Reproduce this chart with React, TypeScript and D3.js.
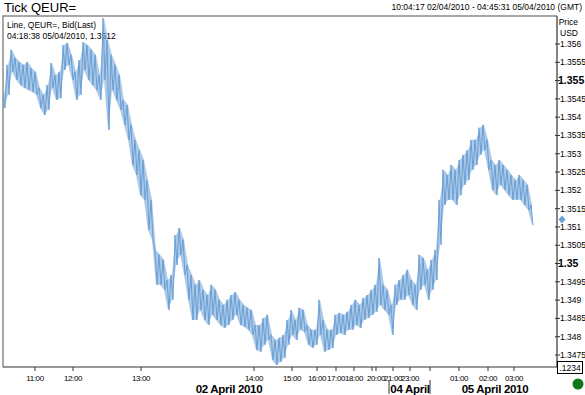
import React, { useEffect, useRef } from 'react';
import * as d3 from 'd3';

// band of bid ticks, one sample every few ticks (upper / lower bid of the sample)
const bandHigh = [
  1.35461, 1.35543, 1.35584, 1.35562, 1.35551, 1.35543, 1.35551, 1.35534, 1.35524, 1.35480,
  1.35461, 1.35488, 1.35548, 1.35515, 1.35524, 1.35597, 1.35603, 1.35570, 1.35524, 1.35556,
  1.35605, 1.35597, 1.35584, 1.35570, 1.35515, 1.35671, 1.35611, 1.35570, 1.35543, 1.35515,
  1.35447, 1.35433, 1.35379, 1.35338, 1.35310, 1.35283, 1.35228, 1.35174, 1.35037, 1.35024,
  1.35010, 1.34955, 1.34969, 1.35078, 1.35097, 1.35065, 1.34996, 1.34969, 1.34942, 1.34955,
  1.34928, 1.34914, 1.34942, 1.34928, 1.34901, 1.34887, 1.34901, 1.34914, 1.34922, 1.34901,
  1.34887, 1.34879, 1.34873, 1.34832, 1.34832, 1.34851, 1.34860, 1.34805, 1.34791, 1.34797,
  1.34805, 1.34846, 1.34873, 1.34846, 1.34879, 1.34873, 1.34832, 1.34819, 1.34819, 1.34901,
  1.34846, 1.34819, 1.34819, 1.34860, 1.34865, 1.34860, 1.34868, 1.34887, 1.34901, 1.34887,
  1.34906, 1.34914, 1.34928, 1.34942, 1.35015, 1.34942, 1.34928, 1.34887, 1.34942, 1.34955,
  1.34969, 1.34983, 1.34955, 1.34942, 1.35024, 1.35015, 1.34983, 1.35010, 1.35037, 1.35174,
  1.35256, 1.35242, 1.35269, 1.35256, 1.35283, 1.35297, 1.35310, 1.35338, 1.35338, 1.35371,
  1.35379, 1.35338, 1.35283, 1.35269, 1.35283, 1.35269, 1.35256, 1.35242, 1.35228, 1.35242,
  1.35228, 1.35215, 1.35160,
];
const bandLow = [
  1.35425, 1.35461, 1.35524, 1.35502, 1.35488, 1.35480, 1.35474, 1.35469, 1.35461, 1.35425,
  1.35406, 1.35420, 1.35480, 1.35447, 1.35452, 1.35529, 1.35543, 1.35502, 1.35447, 1.35461,
  1.35529, 1.35502, 1.35488, 1.35474, 1.35447, 1.35502, 1.35365, 1.35474, 1.35447, 1.35420,
  1.35379, 1.35338, 1.35269, 1.35242, 1.35187, 1.35174, 1.35092, 1.35065, 1.34942, 1.34942,
  1.34928, 1.34873, 1.34901, 1.34996, 1.35024, 1.34969, 1.34901, 1.34846, 1.34846, 1.34873,
  1.34846, 1.34832, 1.34860, 1.34846, 1.34832, 1.34824, 1.34832, 1.34846, 1.34860, 1.34832,
  1.34827, 1.34819, 1.34805, 1.34764, 1.34759, 1.34778, 1.34791, 1.34737, 1.34723, 1.34731,
  1.34742, 1.34778, 1.34805, 1.34791, 1.34819, 1.34813, 1.34778, 1.34769, 1.34778, 1.34805,
  1.34759, 1.34764, 1.34769, 1.34805, 1.34810, 1.34805, 1.34819, 1.34819, 1.34832, 1.34824,
  1.34846, 1.34851, 1.34860, 1.34868, 1.34887, 1.34873, 1.34860, 1.34805, 1.34887, 1.34901,
  1.34901, 1.34914, 1.34887, 1.34873, 1.34928, 1.34942, 1.34901, 1.34928, 1.34955, 1.35051,
  1.35160, 1.35174, 1.35174, 1.35160, 1.35187, 1.35215, 1.35228, 1.35256, 1.35269, 1.35297,
  1.35310, 1.35256, 1.35201, 1.35187, 1.35215, 1.35201, 1.35187, 1.35174, 1.35174, 1.35174,
  1.35160, 1.35146, 1.35105,
];
const lastPrice = 1.3512;

const priceTicks = [
  '1.356', '1.3555', '1.355', '1.3545', '1.354', '1.3535', '1.353', '1.3525', '1.352',
  '1.3515', '1.351', '1.3505', '1.35', '1.3495', '1.349', '1.3485', '1.348', '1.3475',
];
const boldTicks = ['1.355', '1.35'];

// position of each hour in the tick sequence (sample index)
const hourTicks = [8, 17.5, 34.5, 62.75, 72.25, 78.5, 83.25, 87.75, 92.25, 93.25, 97.5, 101.75, 106.75, 114, 121.25, 127.75];
const hourLabels = ['11:00', '12:00', '13:00', '14:00', '15:00', '16:00', '17:00', '18:00', '', '20:00', '21:00', '23:00', '', '01:00', '02:00', '03:00'];

const dateLabels = ['02 April 2010', '04 April', '05 April 2010'];
const datePos = [56.5, 101.75, 123];
const dateBreaks = [96.5, 106.75];

const FONT = '"Liberation Sans", Arial, sans-serif';
const LINE_COLOR = '#6a9fd5';

function App() {
  const ref = useRef<SVGSVGElement>(null);

  useEffect(() => {
    const svg = d3.select(ref.current);
    svg.selectAll('*').remove();

    const left = 3, right = 557, top = 16, bottom = 367;

    const x = d3.scaleLinear().domain([0, 138.5]).range([left, right]);
    const y = d3.scaleLinear().domain([1.3475, 1.356]).range([355, 44]);

    // header
    svg.append('text')
      .attr('x', 4).attr('y', 12)
      .style('font-size', '13px')
      .text('Tick QEUR=');
    svg.append('text')
      .attr('x', 582).attr('y', 10)
      .attr('text-anchor', 'end')
      .style('font-size', '8.5px')
      .text('10:04:17 02/04/2010 - 04:45:31 05/04/2010 (GMT)');

    // frame
    svg.append('path')
      .attr('d', `M${left},${bottom}V${top}H${right}`)
      .attr('fill', 'none').attr('stroke', '#8a8a8a').attr('stroke-width', 1.5);
    svg.append('path')
      .attr('d', `M${left},${bottom}H${right}V${top}`)
      .attr('fill', 'none').attr('stroke', '#333').attr('stroke-width', 1.2);

    // legend text inside plot
    svg.append('text').attr('x', 7).attr('y', 28).style('font-size', '8.5px').text('Line, QEUR=, Bid(Last)');
    svg.append('text').attr('x', 7).attr('y', 39).style('font-size', '8.5px').text('04:18:38 05/04/2010, 1.3512');

    // tick band: light fill of the range plus zig-zag between upper and lower bid of each sample
    const area = d3.area<number>()
      .x((_, i) => x(i + 0.25))
      .y0((_, i) => y(bandLow[i]))
      .y1((h) => y(h));
    svg.append('path')
      .attr('d', area(bandHigh) as string)
      .attr('fill', LINE_COLOR)
      .attr('fill-opacity', 0.55);

    const pts: [number, number][] = [];
    bandHigh.forEach((h, i) => {
      pts.push([x(i), y(h)]);
      pts.push([x(i + 0.5), y(bandLow[i])]);
    });
    svg.append('path')
      .attr('d', d3.line()(pts) as string)
      .attr('fill', 'none')
      .attr('stroke', LINE_COLOR)
      .attr('stroke-width', 1);

    // right price axis
    svg.append('text').attr('x', 578).attr('y', 25).attr('text-anchor', 'end').style('font-size', '8.5px').text('Price');
    svg.append('text').attr('x', 578).attr('y', 36).attr('text-anchor', 'end').style('font-size', '8.5px').text('USD');

    const ty = svg.append('g');
    priceTicks.forEach((t) => {
      const v = +t;
      const bold = boldTicks.includes(t);
      ty.append('line')
        .attr('x1', right - 2).attr('x2', right + 3)
        .attr('y1', y(v)).attr('y2', y(v))
        .attr('stroke', '#333');
      ty.append('text')
        .attr('x', bold ? right + 1 : right + 3).attr('y', y(v))
        .attr('dy', '0.35em')
        .style('font-size', bold ? '10.5px' : '8.5px')
        .style('font-weight', bold ? 'bold' : 'normal')
        .text(t);
    });

    // last price marker
    const ly = y(lastPrice);
    svg.append('path')
      .attr('d', `M${right + 5},${ly - 4}l3.5,4l-3.5,4l-3.5,-4z`)
      .attr('fill', LINE_COLOR);

    svg.append('rect')
      .attr('x', 557.5).attr('y', 361.5).attr('width', 25).attr('height', 12)
      .attr('fill', '#fff').attr('stroke', '#000');
    svg.append('text')
      .attr('x', 570).attr('y', 371).attr('text-anchor', 'middle')
      .style('font-size', '8.5px').text('.1234');

    svg.append('circle').attr('cx', 578).attr('cy', 384).attr('r', 5.5).attr('fill', '#0a7a14');

    // bottom time axis
    const tx = svg.append('g');
    hourTicks.forEach((h, i) => {
      tx.append('line')
        .attr('x1', x(h)).attr('x2', x(h))
        .attr('y1', bottom).attr('y2', bottom + 4)
        .attr('stroke', '#333');
      if (hourLabels[i]) {
        tx.append('text')
          .attr('x', x(h)).attr('y', 381)
          .attr('text-anchor', 'middle')
          .style('font-size', '8px')
          .style('letter-spacing', '-0.4px')
          .text(hourLabels[i]);
      }
    });
    dateBreaks.forEach((d) => {
      tx.append('line')
        .attr('x1', x(d)).attr('x2', x(d))
        .attr('y1', 380).attr('y2', 394)
        .attr('stroke', '#333');
    });
    dateLabels.forEach((d, i) => {
      tx.append('text')
        .attr('x', x(datePos[i])).attr('y', 393)
        .attr('text-anchor', 'middle')
        .style('font-size', '11.5px')
        .style('font-weight', 'bold')
        .style('letter-spacing', '-0.3px')
        .text(d);
    });
  }, []);

  return (
    <svg
      ref={ref}
      width={585}
      height={395}
      style={{ position: 'absolute', left: 0, top: 0, background: '#fff', fontFamily: FONT }}
    />
  );
}

export default App;
